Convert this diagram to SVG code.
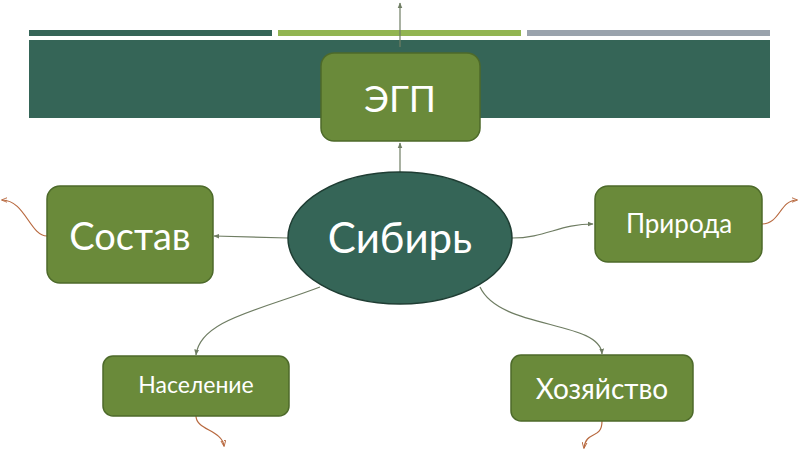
<svg xmlns="http://www.w3.org/2000/svg" width="800" height="450" viewBox="0 0 800 450">
<defs>
<style>
.box{fill:#6a8a3a;stroke:#4d6a2a;stroke-width:1.5}
.lbl{fill:#fff;font-family:Lato,"Open Sans","DejaVu Sans",sans-serif;text-anchor:middle}
.c{fill:none;stroke:#6f7d63;stroke-width:1.2;marker-end:url(#ag)}
.o{fill:none;stroke:#b8693f;stroke-width:1.2;marker-end:url(#ao)}
</style>
<marker id="ag" viewBox="0 0 10 10" refX="9" refY="5" markerWidth="6" markerHeight="6" orient="auto" markerUnits="userSpaceOnUse"><path d="M0,1 L10,5 L0,9 Z" fill="#6f7d63"/></marker>
<marker id="ao" viewBox="0 0 10 10" refX="9" refY="5" markerWidth="6" markerHeight="6" orient="auto" markerUnits="userSpaceOnUse"><path d="M0,1 L10,5 L0,9 Z" fill="none" stroke="#b8693f" stroke-width="1.5"/></marker>
</defs>
<rect width="800" height="450" fill="#fff"/>
<g id="header">
<rect x="29" y="30" width="243" height="6" fill="#356557"/>
<rect x="278" y="30" width="243" height="6" fill="#92b552"/>
<rect x="527" y="30" width="243" height="6" fill="#9aa3ad"/>
<rect x="29" y="40" width="741" height="78" fill="#356557"/>
</g>
<g id="connectors">
<path class="c" d="M400,47 L400,3"/>
<path class="c" d="M400,172 L400,143"/>
<path class="c" d="M288,238 L214,236"/>
<path class="c" d="M512,238 C545,238 560,224 593,224"/>
<path class="c" d="M320,287 C260,310 200,320 196,355"/>
<path class="c" d="M480,287 C500,330 600,320 602,354"/>
<path class="o" d="M47,236 C30,236 25,200 2,200"/>
<path class="o" d="M762,224 C780,224 780,200 797,200"/>
<path class="o" d="M196,416 C196,430 222,430 224,446"/>
<path class="o" d="M602,421 C602,440 586,430 584,448"/>
</g>
<g id="egp">
<rect class="box" x="321" y="53" width="159" height="88" rx="13"/>
<text class="lbl" x="400" y="112" font-size="37">ЭГП</text>
</g>
<g id="sibir">
<ellipse cx="400" cy="238" rx="112" ry="66" fill="#356557" stroke="#1f3d33" stroke-width="1.5"/>
<text class="lbl" x="400" y="253" font-size="42">Сибирь</text>
</g>
<g id="sostav">
<rect class="box" x="47" y="186" width="166" height="97" rx="13"/>
<text class="lbl" x="130" y="250" font-size="38">Состав</text>
</g>
<g id="priroda">
<rect class="box" x="595" y="186" width="167" height="76" rx="13"/>
<text class="lbl" x="679" y="233" font-size="26">Природа</text>
</g>
<g id="naselenie">
<rect class="box" x="103" y="356" width="186" height="60" rx="10"/>
<text class="lbl" x="196" y="393" font-size="23">Население</text>
</g>
<g id="khozyaystvo">
<rect class="box" x="511" y="355" width="182" height="66" rx="10"/>
<text class="lbl" x="602" y="399" font-size="28">Хозяйство</text>
</g>
</svg>
